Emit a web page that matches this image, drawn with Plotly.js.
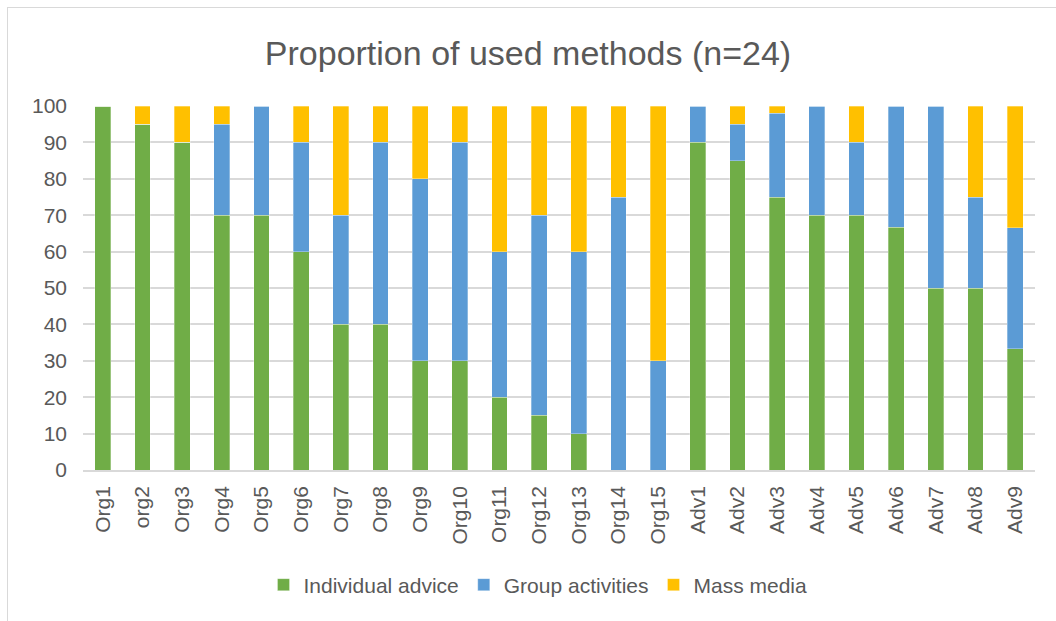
<!DOCTYPE html>
<html>
<head>
<meta charset="utf-8">
<script src="https://cdn.plot.ly/plotly-3.0.1.min.js"></script>
<style>
  html, body { margin: 0; padding: 0; background: #ffffff; }
  #wrap { position: relative; width: 1056px; height: 621px; overflow: hidden; }
  #chart { position: absolute; left: 0; top: 0; width: 1056px; height: 621px; }
  #frame { position: absolute; left: 7px; top: 7px; width: 1100px; height: 700px;
           border-left: 1px solid #d9d9d9; border-top: 1px solid #d9d9d9; pointer-events: none; }
</style>
</head>
<body>
<div id="wrap">
  <div id="chart"></div>
  <div id="frame"></div>
</div>
<script>
const categories = ["Org1","org2","Org3","Org4","Org5","Org6","Org7","Org8","Org9","Org10",
  "Org11","Org12","Org13","Org14","Org15","Adv1","Adv2","Adv3","Adv4","Adv5","Adv6","Adv7","Adv8","Adv9"];

const individualAdvice = [100,95,90,70,70,60,40,40,30,30,20,15,10,0,0,90,85,75,70,70,66.7,50,50,33.3];
const groupActivities  = [0,0,0,25,30,30,30,50,50,60,40,55,50,75,30,10,10,23,30,20,33.3,50,25,33.3];
const massMedia        = [0,5,10,5,0,10,30,10,20,10,40,30,40,25,70,0,5,2,0,10,0,0,25,33.4];

const seriesNames = ["Individual advice","Group activities","Mass media"];
const seriesColors = ["#70AD47","#5B9BD5","#FFC000"];
const seriesValues = [individualAdvice, groupActivities, massMedia];

const yTicks = [0,10,20,30,40,50,60,70,80,90,100];

const FONT = "Liberation Sans, Arial, sans-serif";
const TXT = "#595959";

const traces = seriesValues.map((vals, i) => ({
  type: "bar",
  name: seriesNames[i],
  x: categories,
  y: vals,
  marker: { color: seriesColors[i], line: { color: "rgba(255,255,255,0.6)", width: 0.5 } },
  hoverinfo: "x+y+name"
}));

const layout = {
  width: 1056,
  height: 621,
  barmode: "stack",
  bargap: 0.6,
  paper_bgcolor: "rgba(0,0,0,0)",
  plot_bgcolor: "rgba(0,0,0,0)",
  margin: { l: 83, r: 21, t: 106, b: 151, pad: 0 },
  title: {
    text: "Proportion of used methods (n=24)",
    font: { family: FONT, size: 34, color: TXT },
    x: 0.5, xanchor: "center",
    y: 1 - 53/621, yanchor: "middle", yref: "container"
  },
  xaxis: {
    type: "category",
    tickangle: -90,
    tickfont: { family: FONT, size: 21, color: TXT },
    showgrid: false,
    showline: true,
    linecolor: "#d9d9d9",
    linewidth: 1.5,
    ticks: "",
    ticklabelstandoff: 6,
    fixedrange: true
  },
  yaxis: {
    range: [0, 100],
    tickvals: yTicks,
    ticktext: yTicks.map(String),
    tickfont: { family: FONT, size: 21, color: TXT },
    showgrid: true,
    gridcolor: "#d9d9d9",
    gridwidth: 1.5,
    zeroline: false,
    showline: false,
    ticks: "",
    ticklabelstandoff: 15,
    fixedrange: true
  },
  legend: {
    orientation: "h",
    x: 0.5 - 21 / 952, xanchor: "center",
    y: (470 - 585) / 364, yanchor: "middle",
    font: { family: FONT, size: 21, color: TXT },
    traceorder: "normal",
    itemwidth: 30
  },
  showlegend: true
};

Plotly.newPlot("chart", traces, layout, { displayModeBar: false, staticPlot: false });
</script>
</body>
</html>
